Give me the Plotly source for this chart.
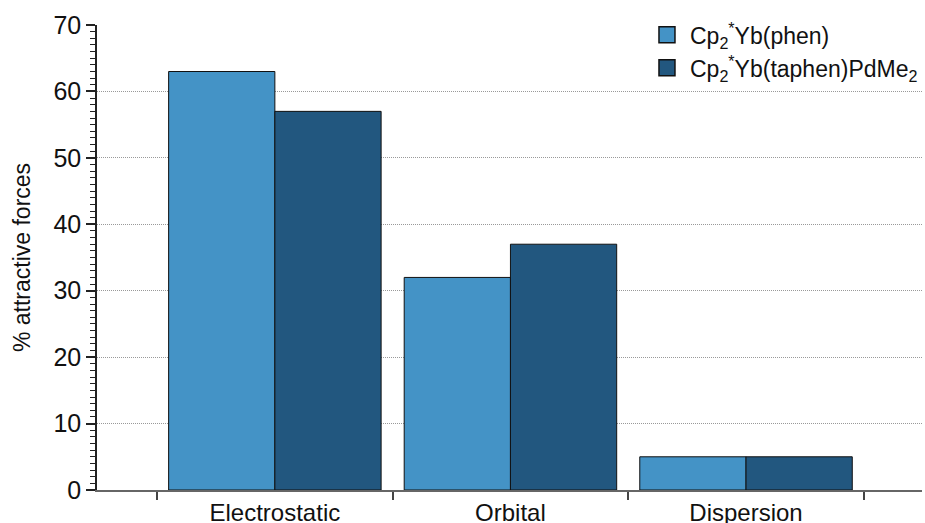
import plotly.graph_objects as go

categories = ["Electrostatic", "Orbital", "Dispersion"]
series_names = ["Cp<sub>2</sub><sup>*</sup>Yb(phen)", "Cp<sub>2</sub><sup>*</sup>Yb(taphen)PdMe<sub>2</sub>"]
phen_values = [63, 32, 5]
taphen_values = [57, 37, 5]
colors = ["#4493C6", "#22577F"]
y_ticks = [0, 10, 20, 30, 40, 50, 60, 70]

FONT = "Liberation Sans, Arial, Helvetica, sans-serif"

fig = go.Figure()
for name, vals, col in zip(series_names, [phen_values, taphen_values], colors):
    fig.add_trace(go.Bar(
        x=categories, y=vals, name=name, showlegend=False,
        marker=dict(color=col, line=dict(color="#111111", width=1)),
    ))
# legend-only entries with larger square swatches
for name, col in zip(series_names, colors):
    fig.add_trace(go.Scatter(
        x=[None], y=[None], name=name, mode="markers",
        marker=dict(symbol="square", size=16, color=col, line=dict(color="#111111", width=1.5)),
    ))

fig.update_layout(
    width=925, height=523,
    margin=dict(l=97, r=3, t=25, b=33, autoexpand=False),
    barmode="group",
    bargap=0.098,
    bargroupgap=0,
    plot_bgcolor="white",
    paper_bgcolor="white",
    font=dict(family=FONT, size=24, color="#111111"),
    showlegend=True,
    legend=dict(
        x=0.663, y=1.025, xanchor="left", yanchor="top",
        bgcolor="rgba(255,255,255,0)",
        font=dict(size=23, family=FONT),
        tracegroupgap=0,
        itemwidth=36,
    ),
    xaxis=dict(
        type="category",
        range=[-0.755, 2.747],
        tickson="boundaries",
        ticks="outside", ticklen=8, tickcolor="#444444", tickwidth=1.5,
        showline=True, linecolor="#666666", linewidth=1.5,
        showgrid=False, automargin=False,
        tickfont=dict(size=24, family=FONT),
    ),
    yaxis=dict(
        range=[0, 70],
        tickvals=y_ticks,
        ticks="outside", ticklen=9, tickcolor="#222222", tickwidth=1.5,
        showline=True, linecolor="#222222", linewidth=1.5,
        showgrid=True, gridcolor="#999999", griddash="1px,1px", gridwidth=1,
        zeroline=False, automargin=False,
        tickfont=dict(size=25, family=FONT),
        title=dict(text="% attractive forces", font=dict(size=23, family=FONT), standoff=16),
        minor=dict(dtick=1, ticks="outside", ticklen=5, tickcolor="#222222", tickwidth=1, showgrid=False),
    ),
)

fig.write_html(
    "out.html",
    config={"displayModeBar": False},
    post_script="document.body.style.margin='0';document.body.style.overflow='hidden';",
)
